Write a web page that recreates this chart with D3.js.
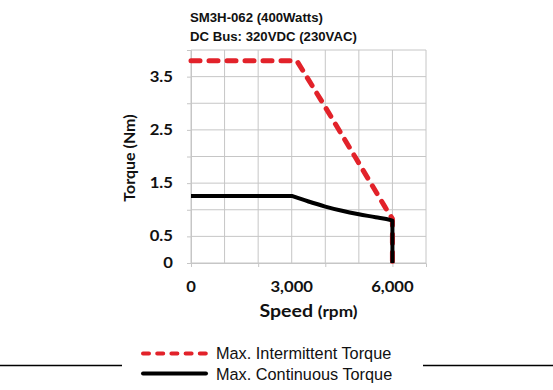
<!DOCTYPE html>
<html><head><meta charset="utf-8">
<script src="https://cdn.jsdelivr.net/npm/d3@7"></script>
<style>body{margin:0;background:#fff}svg{display:block}</style>
</head><body>
<svg id="c" width="553" height="390"></svg>
<script>
const titleLines = ["SM3H-062 (400Watts)", "DC Bus: 320VDC (230VAC)"];
const seriesNames = ["Max. Intermittent Torque", "Max. Continuous Torque"];
const intermittentSpeed = [0, 3150, 3950, 4900, 5800, 6000, 6000];
const intermittentTorque = [3.8, 3.8, 2.98, 1.98, 1.03, 0.83, 0];
const continuousSpeed = [0, 3000, 3500, 4000, 4500, 5000, 5500, 5950, 6000, 6000];
const continuousTorque = [1.26, 1.26, 1.155, 1.06, 0.98, 0.915, 0.86, 0.805, 0.795, 0];
const xGridValues = [0, 1000, 2000, 3000, 4000, 5000, 6000, 7000];
const xTickMarks = [0, 2000, 4000, 6000];
const xTickLabels = [0, 3000, 6000];
const yGridValues = [0, 0.5, 1, 1.5, 2, 2.5, 3, 3.5, 4];
const yTickLabels = [0, 0.5, 1.5, 2.5, 3.5];

const svg = d3.select("#c");
const L = 191, R = 426, T = 50, B = 263;
const x = d3.scaleLinear().domain([0, 7000]).range([L, R]);
const y = d3.scaleLinear().domain([0, 4]).range([B, T]);
const grid = "#c6c6c6";
const SX = 1.15;

// title
svg.selectAll("text.title").data(titleLines).enter().append("text")
  .attr("x", 190).attr("y", (d, i) => 22 + i * 18.5)
  .attr("font-family", "Liberation Sans, Arial, sans-serif").attr("font-weight", "bold")
  .attr("font-size", 13.2).attr("fill", "#111").text(d => d);

// gridlines
svg.append("g").selectAll("line").data(xGridValues).enter().append("line")
  .attr("x1", d => x(d)).attr("x2", d => x(d)).attr("y1", T).attr("y2", B)
  .attr("stroke", grid).attr("stroke-width", 1);
svg.append("g").selectAll("line").data(yGridValues).enter().append("line")
  .attr("x1", L).attr("x2", R).attr("y1", d => y(d)).attr("y2", d => y(d))
  .attr("stroke", grid).attr("stroke-width", 1);

// y axis ticks
const yAx = svg.append("g").attr("transform", `translate(${L},0)`)
  .call(d3.axisLeft(y).tickValues(yGridValues).tickSize(4).tickFormat(""));
yAx.select(".domain").attr("stroke", grid);
yAx.selectAll(".tick line").attr("stroke", grid);
svg.append("g").selectAll("text").data(yTickLabels).enter().append("text")
  .attr("transform", d => `translate(173,${y(d) + 5}) scale(${SX},1)`)
  .attr("text-anchor", "end").attr("font-family", "Lato, sans-serif")
  .attr("font-weight", "bold").attr("font-size", 14.5).attr("fill", "#111").text(d => d3.format("")(d));

// x axis tick marks
const xAx = svg.append("g").attr("transform", `translate(0,${B})`)
  .call(d3.axisBottom(x).tickValues(xTickMarks).tickSize(4).tickFormat(""));
xAx.select(".domain").attr("stroke", grid);
xAx.selectAll(".tick line").attr("stroke", grid);
svg.append("g").selectAll("text").data(xTickLabels).enter().append("text")
  .attr("transform", d => `translate(${x(d)},292) scale(${SX},1)`).attr("text-anchor", "middle")
  .attr("font-family", "Lato, sans-serif").attr("font-weight", "bold")
  .attr("font-size", 14.5).attr("fill", "#111").text(d => d3.format(",")(d));

// axis titles
const xt = svg.append("text").attr("transform", `translate(308.5,317) scale(${SX},1)`).attr("text-anchor", "middle")
  .attr("font-family", "Lato, sans-serif").attr("font-weight", "bold").attr("fill", "#111");
xt.append("tspan").attr("font-size", 17).text("Speed ");
xt.append("tspan").attr("font-size", 15).text("(rpm)");
svg.append("text").attr("transform", "translate(135,158) rotate(-90)").attr("text-anchor", "middle")
  .attr("font-family", "Lato, sans-serif").attr("font-weight", "bold").attr("font-size", 16)
  .attr("fill", "#111").text("Torque (Nm)");

// lines
const line = d3.line().x(d => x(d[0])).y(d => y(d[1]));
const smooth = d3.line().x(d => x(d[0])).y(d => y(d[1])).curve(d3.curveMonotoneX);
const inter = intermittentSpeed.map((s, i) => [s, intermittentTorque[i]]);
const cont = continuousSpeed.map((s, i) => [s, continuousTorque[i]]);
svg.append("path").datum(inter).attr("d", line).attr("fill", "none")
  .attr("stroke", "#e2222a").attr("stroke-width", 5).attr("stroke-dasharray", "9,9")
  .attr("stroke-linecap", "round").attr("stroke-linejoin", "round");
const first = cont[0], last = cont[cont.length - 1];
svg.append("path").datum(cont)
  .attr("d", d => `M${x(first[0])},${y(first[1])}` + smooth(d.slice(1, -1)).replace(/^M/, "L") + `L${x(last[0])},${y(last[1])}`)
  .attr("fill", "none").attr("stroke", "#000").attr("stroke-width", 4).attr("stroke-linejoin", "round");

// legend
svg.append("line").attr("x1", 0).attr("x2", 122).attr("y1", 365.5).attr("y2", 365.5).attr("stroke", "#000").attr("stroke-width", 1.6);
svg.append("line").attr("x1", 423).attr("x2", 553).attr("y1", 365.5).attr("y2", 365.5).attr("stroke", "#000").attr("stroke-width", 1.6);
const lg = svg.append("g");
lg.append("line").attr("x1", 143).attr("x2", 206).attr("y1", 353.5).attr("y2", 353.5)
  .attr("stroke", "#e2222a").attr("stroke-width", 4).attr("stroke-dasharray", "6,8.2").attr("stroke-linecap", "round");
lg.append("line").attr("x1", 143).attr("x2", 206).attr("y1", 373.5).attr("y2", 373.5)
  .attr("stroke", "#000").attr("stroke-width", 4).attr("stroke-linecap", "round");
lg.selectAll("text").data(seriesNames).enter().append("text")
  .attr("x", 216).attr("y", (d, i) => 359 + i * 21)
  .attr("font-family", "Liberation Sans, Arial, sans-serif").attr("font-size", 16.3)
  .attr("fill", "#111").text(d => d);
</script>
</body></html>
